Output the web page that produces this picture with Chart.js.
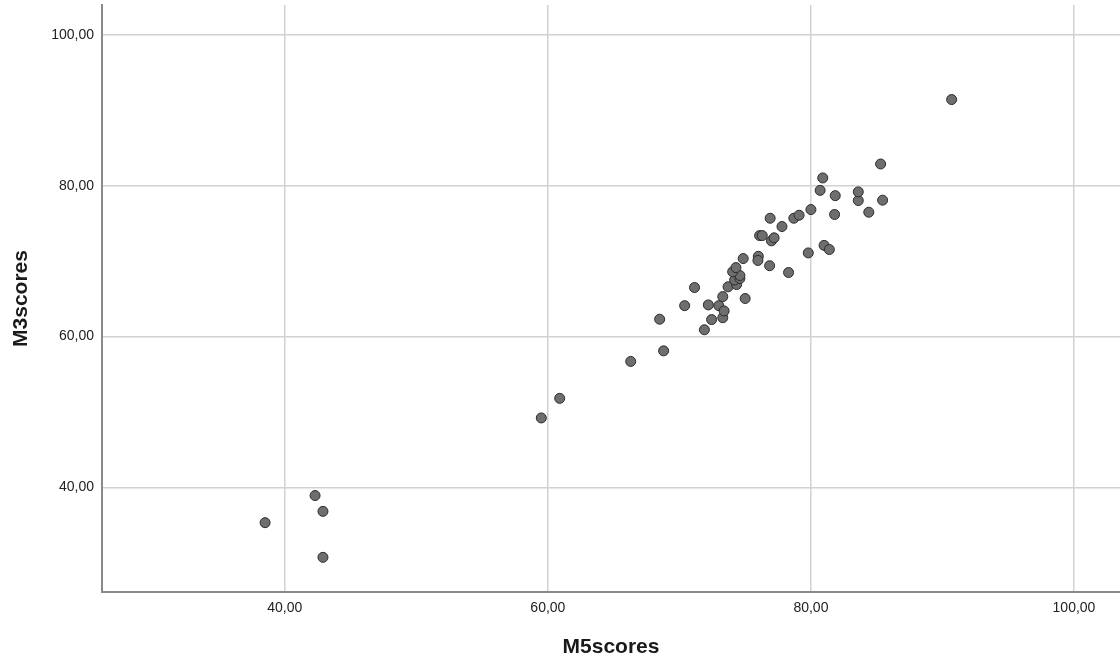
<!DOCTYPE html>
<html>
<head>
<meta charset="utf-8">
<script src="https://cdn.jsdelivr.net/npm/chart.js@4.4.0/dist/chart.umd.min.js"></script>
<style>
  html, body { margin: 0; padding: 0; background: #fff; overflow: hidden; }
  #wrap { width: 1120px; height: 661px; position: relative; }
  canvas { display: block; }
</style>
</head>
<body>
<div id="wrap"><canvas id="scatter"></canvas></div>
<script>
// M5scores (x) and M3scores (y), one entry per case
const m5scores = [
  38.5, 42.3, 42.9, 42.9, 59.5, 60.9, 66.3, 68.8, 68.5, 70.4,
  71.15, 71.9, 72.2, 72.45, 73.0, 73.3, 73.4, 73.3, 73.7, 74.35,
  74.2, 74.6, 74.6, 74.05, 74.3, 74.85, 75.0, 76.0, 75.97, 76.86,
  78.3, 79.8, 81.0, 81.4, 77.0, 77.2, 76.1, 76.3, 77.8, 76.9,
  78.7, 79.1, 80.0, 81.8, 84.4, 83.6, 83.6, 85.45, 81.85, 80.7,
  80.9, 85.3, 90.7
];
const m3scores = [
  35.3, 38.9, 36.8, 30.7, 49.2, 51.8, 56.7, 58.1, 62.3, 64.1,
  66.5, 60.9, 64.2, 62.25, 64.1, 62.5, 63.4, 65.3, 66.6, 66.9,
  67.5, 67.7, 68.1, 68.6, 69.15, 70.35, 65.05, 70.65, 70.1, 69.4,
  68.5, 71.1, 72.1, 71.55, 72.7, 73.1, 73.4, 73.4, 74.6, 75.7,
  75.7, 76.1, 76.85, 76.2, 76.5, 78.05, 79.2, 78.1, 78.7, 79.4,
  81.05, 82.9, 91.45
];
const xTicks = [40, 60, 80, 100];
const yTicks = [40, 60, 80, 100];

const points = m5scores.map((x, i) => ({ x: x, y: m3scores[i] }));

// SPSS style labels: two decimals with a comma
const fmt = (v) => v.toFixed(2).replace('.', ',');
const FONT = 'Liberation Sans, Arial, sans-serif';

new Chart(document.getElementById('scatter'), {
  type: 'scatter',
  data: {
    datasets: [{
      label: 'M3scores',
      data: points,
      pointRadius: 5,
      pointHoverRadius: 5,
      backgroundColor: '#6e6e6e',
      borderColor: '#2b2b2b',
      borderWidth: 1
    }]
  },
  options: {
    responsive: true,
    maintainAspectRatio: false,
    animation: false,
    layout: { autoPadding: false, padding: { top: 5, right: 0, bottom: 0, left: 0 } },
    plugins: {
      legend: { display: false },
      tooltip: { enabled: false }
    },
    scales: {
      x: {
        type: 'linear',
        min: 26.1,
        max: 103.5,
        afterBuildTicks: (axis) => { axis.ticks = xTicks.map(v => ({ value: v })); },
        afterFit: (axis) => {
          axis.height = 69;
          axis.paddingLeft = 0;
          axis.paddingRight = 0;
        },
        grid: { color: '#d2d2d2', lineWidth: 1.5, drawTicks: false },
        border: { color: '#8a8a8a', width: 2 },
        ticks: {
          padding: 8,
          color: '#222',
          font: { family: FONT, size: 14 },
          callback: (v) => fmt(v)
        },
        title: {
          display: true,
          text: 'M5scores',
          color: '#1a1a1a',
          padding: { top: 0, bottom: 1 },
          font: { family: FONT, size: 21, weight: 'bold' }
        }
      },
      y: {
        type: 'linear',
        min: 26.1,
        max: 104,
        afterBuildTicks: (axis) => { axis.ticks = yTicks.map(v => ({ value: v })); },
        afterFit: (axis) => {
          axis.width = 102;
          axis.paddingTop = 0;
          axis.paddingBottom = 0;
        },
        grid: { color: '#d2d2d2', lineWidth: 1.5, drawTicks: false },
        border: { color: '#8a8a8a', width: 2 },
        ticks: {
          padding: 8,
          color: '#222',
          font: { family: FONT, size: 14 },
          callback: (v) => fmt(v)
        },
        title: {
          display: true,
          text: 'M3scores',
          color: '#1a1a1a',
          padding: { top: 9, bottom: 0 },
          font: { family: FONT, size: 21, weight: 'bold' }
        }
      }
    }
  }
});
</script>
</body>
</html>
